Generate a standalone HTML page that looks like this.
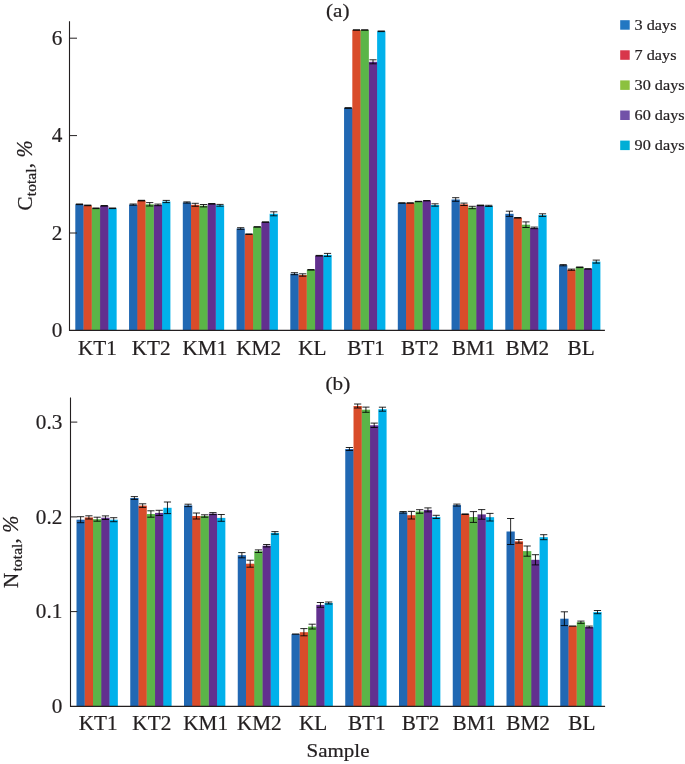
<!DOCTYPE html>
<html lang="en">
<head>
<meta charset="utf-8">
<title>Ctotal and Ntotal by sample</title>
<style>
html,body{margin:0;padding:0;background:#fff;}
body{width:685px;height:764px;overflow:hidden;}
svg{display:block;will-change:transform;opacity:0.9999;}
text{font-family:"Liberation Serif","DejaVu Serif",serif;fill:#231f20;stroke:#231f20;stroke-width:0.22px;}
.num{font-size:22px;}
.cat{font-size:20.3px;}
.ttl{font-size:18.9px;}
.smp{font-size:19.8px;}
.ysub{font-size:14.5px;}
.yl{font-size:21px;}
.leg{font-size:15.6px;}
</style>
</head>
<body>
<svg width="685" height="764" viewBox="0 0 685 764">
<rect width="685" height="764" fill="#fff"/>
<rect x="75.30" y="204.30" width="8.27" height="126.05" fill="#2168b3"/>
<rect x="83.37" y="205.90" width="0.9" height="124.45" fill="#2168b3"/>
<rect x="83.57" y="205.40" width="8.27" height="124.95" fill="#d94c2a"/>
<rect x="91.64" y="208.80" width="0.9" height="121.55" fill="#d94c2a"/>
<rect x="91.84" y="208.30" width="8.27" height="122.05" fill="#5bb548"/>
<rect x="99.91" y="208.80" width="0.9" height="121.55" fill="#5bb548"/>
<rect x="100.11" y="205.80" width="8.27" height="124.55" fill="#62308f"/>
<rect x="108.18" y="208.80" width="0.9" height="121.55" fill="#62308f"/>
<rect x="108.38" y="208.30" width="8.27" height="122.05" fill="#00b1eb"/>
<rect x="129.05" y="204.60" width="8.27" height="125.75" fill="#2168b3"/>
<rect x="137.12" y="205.10" width="0.9" height="125.25" fill="#2168b3"/>
<rect x="137.32" y="200.60" width="8.27" height="129.75" fill="#d94c2a"/>
<rect x="145.39" y="204.80" width="0.9" height="125.55" fill="#d94c2a"/>
<rect x="145.59" y="204.30" width="8.27" height="126.05" fill="#5bb548"/>
<rect x="153.66" y="205.40" width="0.9" height="124.95" fill="#5bb548"/>
<rect x="153.86" y="204.90" width="8.27" height="125.45" fill="#62308f"/>
<rect x="161.93" y="205.40" width="0.9" height="124.95" fill="#62308f"/>
<rect x="162.13" y="201.50" width="8.27" height="128.85" fill="#00b1eb"/>
<rect x="182.80" y="202.50" width="8.27" height="127.85" fill="#2168b3"/>
<rect x="190.87" y="205.30" width="0.9" height="125.05" fill="#2168b3"/>
<rect x="191.07" y="204.80" width="8.27" height="125.55" fill="#d94c2a"/>
<rect x="199.14" y="206.20" width="0.9" height="124.15" fill="#d94c2a"/>
<rect x="199.34" y="205.70" width="8.27" height="124.65" fill="#5bb548"/>
<rect x="207.41" y="206.20" width="0.9" height="124.15" fill="#5bb548"/>
<rect x="207.61" y="203.80" width="8.27" height="126.55" fill="#62308f"/>
<rect x="215.68" y="205.80" width="0.9" height="124.55" fill="#62308f"/>
<rect x="215.88" y="205.30" width="8.27" height="125.05" fill="#00b1eb"/>
<rect x="236.55" y="228.50" width="8.27" height="101.85" fill="#2168b3"/>
<rect x="244.62" y="234.70" width="0.9" height="95.65" fill="#2168b3"/>
<rect x="244.82" y="234.20" width="8.27" height="96.15" fill="#d94c2a"/>
<rect x="252.89" y="234.70" width="0.9" height="95.65" fill="#d94c2a"/>
<rect x="253.09" y="226.90" width="8.27" height="103.45" fill="#5bb548"/>
<rect x="261.16" y="227.40" width="0.9" height="102.95" fill="#5bb548"/>
<rect x="261.36" y="222.10" width="8.27" height="108.25" fill="#62308f"/>
<rect x="269.43" y="222.60" width="0.9" height="107.75" fill="#62308f"/>
<rect x="269.63" y="213.80" width="8.27" height="116.55" fill="#00b1eb"/>
<rect x="290.30" y="273.70" width="8.27" height="56.65" fill="#2168b3"/>
<rect x="298.37" y="275.50" width="0.9" height="54.85" fill="#2168b3"/>
<rect x="298.57" y="275.00" width="8.27" height="55.35" fill="#d94c2a"/>
<rect x="306.64" y="275.50" width="0.9" height="54.85" fill="#d94c2a"/>
<rect x="306.84" y="269.80" width="8.27" height="60.55" fill="#5bb548"/>
<rect x="314.91" y="270.30" width="0.9" height="60.05" fill="#5bb548"/>
<rect x="315.11" y="255.70" width="8.27" height="74.65" fill="#62308f"/>
<rect x="323.18" y="256.20" width="0.9" height="74.15" fill="#62308f"/>
<rect x="323.38" y="254.90" width="8.27" height="75.45" fill="#00b1eb"/>
<rect x="344.05" y="108.00" width="8.27" height="222.35" fill="#2168b3"/>
<rect x="352.12" y="108.50" width="0.9" height="221.85" fill="#2168b3"/>
<rect x="352.32" y="30.00" width="8.27" height="300.35" fill="#d94c2a"/>
<rect x="360.39" y="30.50" width="0.9" height="299.85" fill="#d94c2a"/>
<rect x="360.59" y="30.00" width="8.27" height="300.35" fill="#5bb548"/>
<rect x="368.66" y="62.30" width="0.9" height="268.05" fill="#5bb548"/>
<rect x="368.86" y="61.80" width="8.27" height="268.55" fill="#62308f"/>
<rect x="376.93" y="62.30" width="0.9" height="268.05" fill="#62308f"/>
<rect x="377.13" y="31.30" width="8.27" height="299.05" fill="#00b1eb"/>
<rect x="397.80" y="203.00" width="8.27" height="127.35" fill="#2168b3"/>
<rect x="405.87" y="203.50" width="0.9" height="126.85" fill="#2168b3"/>
<rect x="406.07" y="203.00" width="8.27" height="127.35" fill="#d94c2a"/>
<rect x="414.14" y="203.50" width="0.9" height="126.85" fill="#d94c2a"/>
<rect x="414.34" y="201.50" width="8.27" height="128.85" fill="#5bb548"/>
<rect x="422.41" y="202.00" width="0.9" height="128.35" fill="#5bb548"/>
<rect x="422.61" y="200.70" width="8.27" height="129.65" fill="#62308f"/>
<rect x="430.68" y="205.50" width="0.9" height="124.85" fill="#62308f"/>
<rect x="430.88" y="205.00" width="8.27" height="125.35" fill="#00b1eb"/>
<rect x="451.55" y="199.50" width="8.27" height="130.85" fill="#2168b3"/>
<rect x="459.62" y="204.80" width="0.9" height="125.55" fill="#2168b3"/>
<rect x="459.82" y="204.30" width="8.27" height="126.05" fill="#d94c2a"/>
<rect x="467.89" y="208.00" width="0.9" height="122.35" fill="#d94c2a"/>
<rect x="468.09" y="207.50" width="8.27" height="122.85" fill="#5bb548"/>
<rect x="476.16" y="208.00" width="0.9" height="122.35" fill="#5bb548"/>
<rect x="476.36" y="205.40" width="8.27" height="124.95" fill="#62308f"/>
<rect x="484.43" y="206.40" width="0.9" height="123.95" fill="#62308f"/>
<rect x="484.63" y="205.90" width="8.27" height="124.45" fill="#00b1eb"/>
<rect x="505.30" y="213.80" width="8.27" height="116.55" fill="#2168b3"/>
<rect x="513.37" y="218.30" width="0.9" height="112.05" fill="#2168b3"/>
<rect x="513.57" y="217.80" width="8.27" height="112.55" fill="#d94c2a"/>
<rect x="521.64" y="225.20" width="0.9" height="105.15" fill="#d94c2a"/>
<rect x="521.84" y="224.70" width="8.27" height="105.65" fill="#5bb548"/>
<rect x="529.91" y="228.40" width="0.9" height="101.95" fill="#5bb548"/>
<rect x="530.11" y="227.90" width="8.27" height="102.45" fill="#62308f"/>
<rect x="538.18" y="228.40" width="0.9" height="101.95" fill="#62308f"/>
<rect x="538.38" y="215.10" width="8.27" height="115.25" fill="#00b1eb"/>
<rect x="559.05" y="265.20" width="8.27" height="65.15" fill="#2168b3"/>
<rect x="567.12" y="270.20" width="0.9" height="60.15" fill="#2168b3"/>
<rect x="567.32" y="269.70" width="8.27" height="60.65" fill="#d94c2a"/>
<rect x="575.39" y="270.20" width="0.9" height="60.15" fill="#d94c2a"/>
<rect x="575.59" y="267.30" width="8.27" height="63.05" fill="#5bb548"/>
<rect x="583.66" y="269.40" width="0.9" height="60.95" fill="#5bb548"/>
<rect x="583.86" y="268.90" width="8.27" height="61.45" fill="#62308f"/>
<rect x="591.93" y="269.40" width="0.9" height="60.95" fill="#62308f"/>
<rect x="592.13" y="261.60" width="8.27" height="68.75" fill="#00b1eb"/>
<path d="M75.84 204.30H83.03" stroke="#000" stroke-opacity="0.9" stroke-width="1.60" fill="none"/>
<path d="M84.11 205.40H91.30" stroke="#000" stroke-opacity="0.9" stroke-width="1.60" fill="none"/>
<path d="M92.38 208.30H99.58" stroke="#000" stroke-opacity="0.9" stroke-width="1.60" fill="none"/>
<path d="M100.65 205.80H107.84" stroke="#000" stroke-opacity="0.9" stroke-width="1.60" fill="none"/>
<path d="M108.92 208.30H116.11" stroke="#000" stroke-opacity="0.9" stroke-width="1.60" fill="none"/>
<path d="M133.19 204.00V205.20M129.59 204.00H136.78M129.59 205.20H136.78" stroke="#000" stroke-opacity="0.85" stroke-width="1" fill="none"/>
<path d="M137.86 200.60H145.06" stroke="#000" stroke-opacity="0.9" stroke-width="1.60" fill="none"/>
<path d="M149.72 202.60V206.00M146.12 202.60H153.32M146.12 206.00H153.32" stroke="#000" stroke-opacity="0.85" stroke-width="1" fill="none"/>
<path d="M158.00 204.10V205.70M154.40 204.10H161.59M154.40 205.70H161.59" stroke="#000" stroke-opacity="0.85" stroke-width="1" fill="none"/>
<path d="M166.26 200.40V202.60M162.66 200.40H169.86M162.66 202.60H169.86" stroke="#000" stroke-opacity="0.85" stroke-width="1" fill="none"/>
<path d="M186.94 201.90V203.10M183.34 201.90H190.53M183.34 203.10H190.53" stroke="#000" stroke-opacity="0.85" stroke-width="1" fill="none"/>
<path d="M195.21 203.30V206.30M191.61 203.30H198.81M191.61 206.30H198.81" stroke="#000" stroke-opacity="0.85" stroke-width="1" fill="none"/>
<path d="M203.47 204.50V206.90M199.88 204.50H207.07M199.88 206.90H207.07" stroke="#000" stroke-opacity="0.85" stroke-width="1" fill="none"/>
<path d="M208.15 203.80H215.34" stroke="#000" stroke-opacity="0.9" stroke-width="1.60" fill="none"/>
<path d="M220.01 204.40V206.20M216.41 204.40H223.61M216.41 206.20H223.61" stroke="#000" stroke-opacity="0.85" stroke-width="1" fill="none"/>
<path d="M240.69 227.70V229.30M237.09 227.70H244.28M237.09 229.30H244.28" stroke="#000" stroke-opacity="0.85" stroke-width="1" fill="none"/>
<path d="M245.36 234.20H252.56" stroke="#000" stroke-opacity="0.9" stroke-width="1.60" fill="none"/>
<path d="M253.63 226.90H260.83" stroke="#000" stroke-opacity="0.9" stroke-width="1.60" fill="none"/>
<path d="M261.89 222.10H269.10" stroke="#000" stroke-opacity="0.9" stroke-width="1.60" fill="none"/>
<path d="M273.76 211.80V215.80M270.16 211.80H277.37M270.16 215.80H277.37" stroke="#000" stroke-opacity="0.85" stroke-width="1" fill="none"/>
<path d="M294.44 272.70V274.70M290.83 272.70H298.04M290.83 274.70H298.04" stroke="#000" stroke-opacity="0.85" stroke-width="1" fill="none"/>
<path d="M302.70 273.80V276.20M299.10 273.80H306.31M299.10 276.20H306.31" stroke="#000" stroke-opacity="0.85" stroke-width="1" fill="none"/>
<path d="M307.38 269.80H314.58" stroke="#000" stroke-opacity="0.9" stroke-width="1.60" fill="none"/>
<path d="M315.64 255.70H322.85" stroke="#000" stroke-opacity="0.9" stroke-width="1.60" fill="none"/>
<path d="M327.51 253.40V256.40M323.91 253.40H331.12M323.91 256.40H331.12" stroke="#000" stroke-opacity="0.85" stroke-width="1" fill="none"/>
<path d="M344.58 108.00H351.79" stroke="#000" stroke-opacity="0.9" stroke-width="1.80" fill="none"/>
<path d="M352.85 30.00H360.06" stroke="#000" stroke-opacity="0.9" stroke-width="1.60" fill="none"/>
<path d="M361.12 30.00H368.33" stroke="#000" stroke-opacity="0.9" stroke-width="1.60" fill="none"/>
<path d="M373.00 59.80V63.80M369.39 59.80H376.60M369.39 63.80H376.60" stroke="#000" stroke-opacity="0.85" stroke-width="1" fill="none"/>
<path d="M377.66 31.30H384.87" stroke="#000" stroke-opacity="0.9" stroke-width="1.60" fill="none"/>
<path d="M398.33 203.00H405.54" stroke="#000" stroke-opacity="0.9" stroke-width="1.60" fill="none"/>
<path d="M406.60 203.00H413.81" stroke="#000" stroke-opacity="0.9" stroke-width="1.60" fill="none"/>
<path d="M414.88 201.50H422.08" stroke="#000" stroke-opacity="0.9" stroke-width="1.40" fill="none"/>
<path d="M423.14 200.70H430.35" stroke="#000" stroke-opacity="0.9" stroke-width="1.40" fill="none"/>
<path d="M435.01 203.80V206.20M431.41 203.80H438.62M431.41 206.20H438.62" stroke="#000" stroke-opacity="0.85" stroke-width="1" fill="none"/>
<path d="M455.69 197.70V201.30M452.08 197.70H459.29M452.08 201.30H459.29" stroke="#000" stroke-opacity="0.85" stroke-width="1" fill="none"/>
<path d="M463.95 203.10V205.50M460.35 203.10H467.56M460.35 205.50H467.56" stroke="#000" stroke-opacity="0.85" stroke-width="1" fill="none"/>
<path d="M472.23 206.30V208.70M468.62 206.30H475.83M468.62 208.70H475.83" stroke="#000" stroke-opacity="0.85" stroke-width="1" fill="none"/>
<path d="M476.89 205.40H484.10" stroke="#000" stroke-opacity="0.9" stroke-width="1.60" fill="none"/>
<path d="M488.76 205.30V206.50M485.16 205.30H492.37M485.16 206.50H492.37" stroke="#000" stroke-opacity="0.85" stroke-width="1" fill="none"/>
<path d="M509.44 211.20V216.40M505.83 211.20H513.03M505.83 216.40H513.03" stroke="#000" stroke-opacity="0.85" stroke-width="1" fill="none"/>
<path d="M514.11 217.80H521.31" stroke="#000" stroke-opacity="0.9" stroke-width="1.60" fill="none"/>
<path d="M525.98 221.90V227.50M522.38 221.90H529.58M522.38 227.50H529.58" stroke="#000" stroke-opacity="0.85" stroke-width="1" fill="none"/>
<path d="M534.25 227.10V228.70M530.64 227.10H537.85M530.64 228.70H537.85" stroke="#000" stroke-opacity="0.85" stroke-width="1" fill="none"/>
<path d="M542.51 213.80V216.40M538.91 213.80H546.12M538.91 216.40H546.12" stroke="#000" stroke-opacity="0.85" stroke-width="1" fill="none"/>
<path d="M563.18 264.60V265.80M559.58 264.60H566.78M559.58 265.80H566.78" stroke="#000" stroke-opacity="0.85" stroke-width="1" fill="none"/>
<path d="M571.45 269.10V270.30M567.85 269.10H575.05M567.85 270.30H575.05" stroke="#000" stroke-opacity="0.85" stroke-width="1" fill="none"/>
<path d="M576.12 267.30H583.32" stroke="#000" stroke-opacity="0.9" stroke-width="1.60" fill="none"/>
<path d="M584.39 268.90H591.59" stroke="#000" stroke-opacity="0.9" stroke-width="1.60" fill="none"/>
<path d="M596.26 260.10V263.10M592.66 260.10H599.87M592.66 263.10H599.87" stroke="#000" stroke-opacity="0.85" stroke-width="1" fill="none"/>
<path d="M69.5 21.3V330.35H604.9" stroke="#231f20" stroke-width="1.1" fill="none"/>
<rect x="76.50" y="519.70" width="8.27" height="186.65" fill="#2168b3"/>
<rect x="84.57" y="520.20" width="0.9" height="186.15" fill="#2168b3"/>
<rect x="84.77" y="517.40" width="8.27" height="188.95" fill="#d94c2a"/>
<rect x="92.84" y="519.70" width="0.9" height="186.65" fill="#d94c2a"/>
<rect x="93.04" y="519.20" width="8.27" height="187.15" fill="#5bb548"/>
<rect x="101.11" y="519.70" width="0.9" height="186.65" fill="#5bb548"/>
<rect x="101.31" y="517.70" width="8.27" height="188.65" fill="#62308f"/>
<rect x="109.38" y="520.20" width="0.9" height="186.15" fill="#62308f"/>
<rect x="109.58" y="519.70" width="8.27" height="186.65" fill="#00b1eb"/>
<rect x="130.25" y="498.00" width="8.27" height="208.35" fill="#2168b3"/>
<rect x="138.32" y="506.10" width="0.9" height="200.25" fill="#2168b3"/>
<rect x="138.52" y="505.60" width="8.27" height="200.75" fill="#d94c2a"/>
<rect x="146.59" y="514.50" width="0.9" height="191.85" fill="#d94c2a"/>
<rect x="146.79" y="514.00" width="8.27" height="192.35" fill="#5bb548"/>
<rect x="154.86" y="514.50" width="0.9" height="191.85" fill="#5bb548"/>
<rect x="155.06" y="512.90" width="8.27" height="193.45" fill="#62308f"/>
<rect x="163.13" y="513.40" width="0.9" height="192.95" fill="#62308f"/>
<rect x="163.33" y="507.80" width="8.27" height="198.55" fill="#00b1eb"/>
<rect x="184.00" y="505.40" width="8.27" height="200.95" fill="#2168b3"/>
<rect x="192.07" y="516.50" width="0.9" height="189.85" fill="#2168b3"/>
<rect x="192.27" y="516.00" width="8.27" height="190.35" fill="#d94c2a"/>
<rect x="200.34" y="516.50" width="0.9" height="189.85" fill="#d94c2a"/>
<rect x="200.54" y="516.00" width="8.27" height="190.35" fill="#5bb548"/>
<rect x="208.61" y="516.50" width="0.9" height="189.85" fill="#5bb548"/>
<rect x="208.81" y="513.60" width="8.27" height="192.75" fill="#62308f"/>
<rect x="216.88" y="518.40" width="0.9" height="187.95" fill="#62308f"/>
<rect x="217.08" y="517.90" width="8.27" height="188.45" fill="#00b1eb"/>
<rect x="237.75" y="555.20" width="8.27" height="151.15" fill="#2168b3"/>
<rect x="245.82" y="564.20" width="0.9" height="142.15" fill="#2168b3"/>
<rect x="246.02" y="563.70" width="8.27" height="142.65" fill="#d94c2a"/>
<rect x="254.09" y="564.20" width="0.9" height="142.15" fill="#d94c2a"/>
<rect x="254.29" y="551.20" width="8.27" height="155.15" fill="#5bb548"/>
<rect x="262.36" y="551.70" width="0.9" height="154.65" fill="#5bb548"/>
<rect x="262.56" y="545.70" width="8.27" height="160.65" fill="#62308f"/>
<rect x="270.63" y="546.20" width="0.9" height="160.15" fill="#62308f"/>
<rect x="270.83" y="532.90" width="8.27" height="173.45" fill="#00b1eb"/>
<rect x="291.50" y="634.10" width="8.27" height="72.25" fill="#2168b3"/>
<rect x="299.57" y="634.60" width="0.9" height="71.75" fill="#2168b3"/>
<rect x="299.77" y="632.20" width="8.27" height="74.15" fill="#d94c2a"/>
<rect x="307.84" y="632.70" width="0.9" height="73.65" fill="#d94c2a"/>
<rect x="308.04" y="626.60" width="8.27" height="79.75" fill="#5bb548"/>
<rect x="316.11" y="627.10" width="0.9" height="79.25" fill="#5bb548"/>
<rect x="316.31" y="604.90" width="8.27" height="101.45" fill="#62308f"/>
<rect x="324.38" y="605.40" width="0.9" height="100.95" fill="#62308f"/>
<rect x="324.58" y="603.00" width="8.27" height="103.35" fill="#00b1eb"/>
<rect x="345.25" y="449.00" width="8.27" height="257.35" fill="#2168b3"/>
<rect x="353.32" y="449.50" width="0.9" height="256.85" fill="#2168b3"/>
<rect x="353.52" y="406.00" width="8.27" height="300.35" fill="#d94c2a"/>
<rect x="361.59" y="410.20" width="0.9" height="296.15" fill="#d94c2a"/>
<rect x="361.79" y="409.70" width="8.27" height="296.65" fill="#5bb548"/>
<rect x="369.86" y="425.80" width="0.9" height="280.55" fill="#5bb548"/>
<rect x="370.06" y="425.30" width="8.27" height="281.05" fill="#62308f"/>
<rect x="378.13" y="425.80" width="0.9" height="280.55" fill="#62308f"/>
<rect x="378.33" y="409.20" width="8.27" height="297.15" fill="#00b1eb"/>
<rect x="399.00" y="512.30" width="8.27" height="194.05" fill="#2168b3"/>
<rect x="407.07" y="515.70" width="0.9" height="190.65" fill="#2168b3"/>
<rect x="407.27" y="515.20" width="8.27" height="191.15" fill="#d94c2a"/>
<rect x="415.34" y="515.70" width="0.9" height="190.65" fill="#d94c2a"/>
<rect x="415.54" y="511.50" width="8.27" height="194.85" fill="#5bb548"/>
<rect x="423.61" y="512.00" width="0.9" height="194.35" fill="#5bb548"/>
<rect x="423.81" y="509.90" width="8.27" height="196.45" fill="#62308f"/>
<rect x="431.88" y="517.40" width="0.9" height="188.95" fill="#62308f"/>
<rect x="432.08" y="516.90" width="8.27" height="189.45" fill="#00b1eb"/>
<rect x="452.75" y="505.10" width="8.27" height="201.25" fill="#2168b3"/>
<rect x="460.82" y="514.70" width="0.9" height="191.65" fill="#2168b3"/>
<rect x="461.02" y="514.20" width="8.27" height="192.15" fill="#d94c2a"/>
<rect x="469.09" y="517.50" width="0.9" height="188.85" fill="#d94c2a"/>
<rect x="469.29" y="517.00" width="8.27" height="189.35" fill="#5bb548"/>
<rect x="477.36" y="517.50" width="0.9" height="188.85" fill="#5bb548"/>
<rect x="477.56" y="514.40" width="8.27" height="191.95" fill="#62308f"/>
<rect x="485.63" y="517.70" width="0.9" height="188.65" fill="#62308f"/>
<rect x="485.83" y="517.20" width="8.27" height="189.15" fill="#00b1eb"/>
<rect x="506.50" y="531.50" width="8.27" height="174.85" fill="#2168b3"/>
<rect x="514.57" y="541.80" width="0.9" height="164.55" fill="#2168b3"/>
<rect x="514.77" y="541.30" width="8.27" height="165.05" fill="#d94c2a"/>
<rect x="522.84" y="551.60" width="0.9" height="154.75" fill="#d94c2a"/>
<rect x="523.04" y="551.10" width="8.27" height="155.25" fill="#5bb548"/>
<rect x="531.11" y="560.30" width="0.9" height="146.05" fill="#5bb548"/>
<rect x="531.31" y="559.80" width="8.27" height="146.55" fill="#62308f"/>
<rect x="539.38" y="560.30" width="0.9" height="146.05" fill="#62308f"/>
<rect x="539.58" y="537.20" width="8.27" height="169.15" fill="#00b1eb"/>
<rect x="560.25" y="618.70" width="8.27" height="87.65" fill="#2168b3"/>
<rect x="568.32" y="626.60" width="0.9" height="79.75" fill="#2168b3"/>
<rect x="568.52" y="626.10" width="8.27" height="80.25" fill="#d94c2a"/>
<rect x="576.59" y="626.60" width="0.9" height="79.75" fill="#d94c2a"/>
<rect x="576.79" y="622.20" width="8.27" height="84.15" fill="#5bb548"/>
<rect x="584.86" y="627.50" width="0.9" height="78.85" fill="#5bb548"/>
<rect x="585.06" y="627.00" width="8.27" height="79.35" fill="#62308f"/>
<rect x="593.13" y="627.50" width="0.9" height="78.85" fill="#62308f"/>
<rect x="593.33" y="612.10" width="8.27" height="94.25" fill="#00b1eb"/>
<path d="M80.64 516.70V522.70M77.04 516.70H84.23M77.04 522.70H84.23" stroke="#000" stroke-opacity="0.85" stroke-width="1" fill="none"/>
<path d="M88.91 515.80V519.00M85.31 515.80H92.50M85.31 519.00H92.50" stroke="#000" stroke-opacity="0.85" stroke-width="1" fill="none"/>
<path d="M97.17 517.20V521.20M93.58 517.20H100.77M93.58 521.20H100.77" stroke="#000" stroke-opacity="0.85" stroke-width="1" fill="none"/>
<path d="M105.45 515.90V519.50M101.85 515.90H109.05M101.85 519.50H109.05" stroke="#000" stroke-opacity="0.85" stroke-width="1" fill="none"/>
<path d="M113.72 517.70V521.70M110.12 517.70H117.31M110.12 521.70H117.31" stroke="#000" stroke-opacity="0.85" stroke-width="1" fill="none"/>
<path d="M134.38 496.60V499.40M130.78 496.60H137.98M130.78 499.40H137.98" stroke="#000" stroke-opacity="0.85" stroke-width="1" fill="none"/>
<path d="M142.66 503.80V507.40M139.06 503.80H146.25M139.06 507.40H146.25" stroke="#000" stroke-opacity="0.85" stroke-width="1" fill="none"/>
<path d="M150.92 510.80V517.20M147.32 510.80H154.52M147.32 517.20H154.52" stroke="#000" stroke-opacity="0.85" stroke-width="1" fill="none"/>
<path d="M159.19 510.30V515.50M155.59 510.30H162.79M155.59 515.50H162.79" stroke="#000" stroke-opacity="0.85" stroke-width="1" fill="none"/>
<path d="M167.46 502.00V513.60M163.86 502.00H171.06M163.86 513.60H171.06" stroke="#000" stroke-opacity="0.85" stroke-width="1" fill="none"/>
<path d="M188.13 504.20V506.60M184.53 504.20H191.73M184.53 506.60H191.73" stroke="#000" stroke-opacity="0.85" stroke-width="1" fill="none"/>
<path d="M196.41 513.00V519.00M192.81 513.00H200.00M192.81 519.00H200.00" stroke="#000" stroke-opacity="0.85" stroke-width="1" fill="none"/>
<path d="M204.67 514.80V517.20M201.07 514.80H208.27M201.07 517.20H208.27" stroke="#000" stroke-opacity="0.85" stroke-width="1" fill="none"/>
<path d="M212.94 512.60V514.60M209.34 512.60H216.54M209.34 514.60H216.54" stroke="#000" stroke-opacity="0.85" stroke-width="1" fill="none"/>
<path d="M221.21 514.50V521.30M217.61 514.50H224.81M217.61 521.30H224.81" stroke="#000" stroke-opacity="0.85" stroke-width="1" fill="none"/>
<path d="M241.88 552.60V557.80M238.28 552.60H245.48M238.28 557.80H245.48" stroke="#000" stroke-opacity="0.85" stroke-width="1" fill="none"/>
<path d="M250.16 560.20V567.20M246.56 560.20H253.75M246.56 567.20H253.75" stroke="#000" stroke-opacity="0.85" stroke-width="1" fill="none"/>
<path d="M258.43 549.90V552.50M254.83 549.90H262.03M254.83 552.50H262.03" stroke="#000" stroke-opacity="0.85" stroke-width="1" fill="none"/>
<path d="M266.69 544.50V546.90M263.09 544.50H270.30M263.09 546.90H270.30" stroke="#000" stroke-opacity="0.85" stroke-width="1" fill="none"/>
<path d="M274.96 531.60V534.20M271.36 531.60H278.56M271.36 534.20H278.56" stroke="#000" stroke-opacity="0.85" stroke-width="1" fill="none"/>
<path d="M292.03 634.10H299.24" stroke="#000" stroke-opacity="0.9" stroke-width="1.24" fill="none"/>
<path d="M303.90 628.60V635.80M300.30 628.60H307.50M300.30 635.80H307.50" stroke="#000" stroke-opacity="0.85" stroke-width="1" fill="none"/>
<path d="M312.18 624.20V629.00M308.57 624.20H315.78M308.57 629.00H315.78" stroke="#000" stroke-opacity="0.85" stroke-width="1" fill="none"/>
<path d="M320.44 602.50V607.30M316.84 602.50H324.05M316.84 607.30H324.05" stroke="#000" stroke-opacity="0.85" stroke-width="1" fill="none"/>
<path d="M328.71 602.00V604.00M325.11 602.00H332.31M325.11 604.00H332.31" stroke="#000" stroke-opacity="0.85" stroke-width="1" fill="none"/>
<path d="M349.38 447.50V450.50M345.78 447.50H352.99M345.78 450.50H352.99" stroke="#000" stroke-opacity="0.85" stroke-width="1" fill="none"/>
<path d="M357.65 404.00V408.00M354.05 404.00H361.25M354.05 408.00H361.25" stroke="#000" stroke-opacity="0.85" stroke-width="1" fill="none"/>
<path d="M365.93 407.10V412.30M362.32 407.10H369.53M362.32 412.30H369.53" stroke="#000" stroke-opacity="0.85" stroke-width="1" fill="none"/>
<path d="M374.19 423.10V427.50M370.59 423.10H377.80M370.59 427.50H377.80" stroke="#000" stroke-opacity="0.85" stroke-width="1" fill="none"/>
<path d="M382.46 407.20V411.20M378.86 407.20H386.06M378.86 411.20H386.06" stroke="#000" stroke-opacity="0.85" stroke-width="1" fill="none"/>
<path d="M403.13 511.50V513.10M399.53 511.50H406.74M399.53 513.10H406.74" stroke="#000" stroke-opacity="0.85" stroke-width="1" fill="none"/>
<path d="M411.40 511.40V519.00M407.80 511.40H415.00M407.80 519.00H415.00" stroke="#000" stroke-opacity="0.85" stroke-width="1" fill="none"/>
<path d="M419.68 509.70V513.30M416.07 509.70H423.28M416.07 513.30H423.28" stroke="#000" stroke-opacity="0.85" stroke-width="1" fill="none"/>
<path d="M427.94 507.90V511.90M424.34 507.90H431.55M424.34 511.90H431.55" stroke="#000" stroke-opacity="0.85" stroke-width="1" fill="none"/>
<path d="M436.21 515.30V518.50M432.61 515.30H439.81M432.61 518.50H439.81" stroke="#000" stroke-opacity="0.85" stroke-width="1" fill="none"/>
<path d="M456.88 504.10V506.10M453.28 504.10H460.49M453.28 506.10H460.49" stroke="#000" stroke-opacity="0.85" stroke-width="1" fill="none"/>
<path d="M461.55 514.20H468.75" stroke="#000" stroke-opacity="0.9" stroke-width="1.60" fill="none"/>
<path d="M473.43 511.60V522.40M469.82 511.60H477.03M469.82 522.40H477.03" stroke="#000" stroke-opacity="0.85" stroke-width="1" fill="none"/>
<path d="M481.69 509.60V519.20M478.09 509.60H485.30M478.09 519.20H485.30" stroke="#000" stroke-opacity="0.85" stroke-width="1" fill="none"/>
<path d="M489.96 513.40V521.00M486.36 513.40H493.56M486.36 521.00H493.56" stroke="#000" stroke-opacity="0.85" stroke-width="1" fill="none"/>
<path d="M510.63 518.50V544.50M507.03 518.50H514.24M507.03 544.50H514.24" stroke="#000" stroke-opacity="0.85" stroke-width="1" fill="none"/>
<path d="M518.90 539.50V543.10M515.30 539.50H522.50M515.30 543.10H522.50" stroke="#000" stroke-opacity="0.85" stroke-width="1" fill="none"/>
<path d="M527.17 546.00V556.20M523.57 546.00H530.77M523.57 556.20H530.77" stroke="#000" stroke-opacity="0.85" stroke-width="1" fill="none"/>
<path d="M535.44 554.70V564.90M531.84 554.70H539.04M531.84 564.90H539.04" stroke="#000" stroke-opacity="0.85" stroke-width="1" fill="none"/>
<path d="M543.72 534.70V539.70M540.12 534.70H547.32M540.12 539.70H547.32" stroke="#000" stroke-opacity="0.85" stroke-width="1" fill="none"/>
<path d="M564.38 611.80V625.60M560.78 611.80H567.99M560.78 625.60H567.99" stroke="#000" stroke-opacity="0.85" stroke-width="1" fill="none"/>
<path d="M569.05 626.10H576.25" stroke="#000" stroke-opacity="0.9" stroke-width="1.24" fill="none"/>
<path d="M580.92 621.10V623.30M577.32 621.10H584.52M577.32 623.30H584.52" stroke="#000" stroke-opacity="0.85" stroke-width="1" fill="none"/>
<path d="M589.19 626.10V627.90M585.59 626.10H592.79M585.59 627.90H592.79" stroke="#000" stroke-opacity="0.85" stroke-width="1" fill="none"/>
<path d="M597.47 610.50V613.70M593.87 610.50H601.07M593.87 613.70H601.07" stroke="#000" stroke-opacity="0.85" stroke-width="1" fill="none"/>
<path d="M70.5 397.5V706.35H605.1" stroke="#231f20" stroke-width="1.1" fill="none"/>
<path d="M69.5 38.2H77" stroke="#231f20" stroke-width="1"/>
<text transform="translate(62.3,44.8) scale(0.965,1)" text-anchor="end" class="num">6</text>
<path d="M69.5 135.6H77" stroke="#231f20" stroke-width="1"/>
<text transform="translate(62.3,142.2) scale(0.965,1)" text-anchor="end" class="num">4</text>
<path d="M69.5 233.0H77" stroke="#231f20" stroke-width="1"/>
<text transform="translate(62.3,239.6) scale(0.965,1)" text-anchor="end" class="num">2</text>
<text transform="translate(62.3,336.7) scale(0.965,1)" text-anchor="end" class="num">0</text>
<path d="M70.5 422.1H77.3" stroke="#231f20" stroke-width="1"/>
<text transform="translate(62.4,428.8) scale(0.965,1)" text-anchor="end" class="num">0.3</text>
<path d="M70.5 516.9H77.3" stroke="#231f20" stroke-width="1"/>
<text transform="translate(62.4,523.6) scale(0.965,1)" text-anchor="end" class="num">0.2</text>
<path d="M70.5 611.6H77.3" stroke="#231f20" stroke-width="1"/>
<text transform="translate(62.4,618.3) scale(0.965,1)" text-anchor="end" class="num">0.1</text>
<text transform="translate(62.4,712.7) scale(0.965,1)" text-anchor="end" class="num">0</text>
<text transform="translate(97.4,354.5) scale(1.045,1)" text-anchor="middle" class="cat">KT1</text>
<text transform="translate(98.1,730.2) scale(1.045,1)" text-anchor="middle" class="cat">KT1</text>
<text transform="translate(151.1,354.5) scale(1.045,1)" text-anchor="middle" class="cat">KT2</text>
<text transform="translate(151.8,730.2) scale(1.045,1)" text-anchor="middle" class="cat">KT2</text>
<text transform="translate(204.9,354.5) scale(1.045,1)" text-anchor="middle" class="cat">KM1</text>
<text transform="translate(205.6,730.2) scale(1.045,1)" text-anchor="middle" class="cat">KM1</text>
<text transform="translate(258.6,354.5) scale(1.045,1)" text-anchor="middle" class="cat">KM2</text>
<text transform="translate(259.3,730.2) scale(1.045,1)" text-anchor="middle" class="cat">KM2</text>
<text transform="translate(312.4,354.5) scale(1.045,1)" text-anchor="middle" class="cat">KL</text>
<text transform="translate(313.1,730.2) scale(1.045,1)" text-anchor="middle" class="cat">KL</text>
<text transform="translate(366.1,354.5) scale(1.045,1)" text-anchor="middle" class="cat">BT1</text>
<text transform="translate(366.8,730.2) scale(1.045,1)" text-anchor="middle" class="cat">BT1</text>
<text transform="translate(419.9,354.5) scale(1.045,1)" text-anchor="middle" class="cat">BT2</text>
<text transform="translate(420.6,730.2) scale(1.045,1)" text-anchor="middle" class="cat">BT2</text>
<text transform="translate(473.6,354.5) scale(1.045,1)" text-anchor="middle" class="cat">BM1</text>
<text transform="translate(474.3,730.2) scale(1.045,1)" text-anchor="middle" class="cat">BM1</text>
<text transform="translate(527.4,354.5) scale(1.045,1)" text-anchor="middle" class="cat">BM2</text>
<text transform="translate(528.1,730.2) scale(1.045,1)" text-anchor="middle" class="cat">BM2</text>
<text transform="translate(581.1,354.5) scale(1.045,1)" text-anchor="middle" class="cat">BL</text>
<text transform="translate(581.8,730.2) scale(1.045,1)" text-anchor="middle" class="cat">BL</text>
<text transform="translate(337.8,17.2) scale(1.12,1)" text-anchor="middle" class="ttl">(a)</text>
<text transform="translate(337.9,390.2) scale(1.12,1)" text-anchor="middle" class="ttl">(b)</text>
<text transform="translate(338,757.3) scale(1.06,1)" text-anchor="middle" class="smp">Sample</text>
<g transform="translate(32,210.6) rotate(-90)">
<text x="0" y="0" class="yl">C</text>
<text transform="translate(14.4,4.3) scale(1.075,1)" class="ysub">total</text>
<text x="42.3" y="0" class="yl">,</text>
<text transform="translate(53.0,0) scale(0.98,1.08)" class="yl" font-style="italic">%</text>
</g>
<g transform="translate(17.6,588.0) rotate(-90)">
<text x="0" y="0" class="yl">N</text>
<text transform="translate(16.7,4.3) scale(1.075,1)" class="ysub">total</text>
<text x="44.599999999999994" y="0" class="yl">,</text>
<text transform="translate(55.3,0) scale(0.98,1.08)" class="yl" font-style="italic">%</text>
</g>
<rect x="620.2" y="20.2" width="9.5" height="9.5" fill="#2277c2"/>
<text transform="translate(634.6,29.8) scale(1.04,1)" class="leg">3 days</text>
<rect x="620.2" y="50.3" width="9.5" height="9.5" fill="#d8364a"/>
<text transform="translate(634.6,59.9) scale(1.04,1)" class="leg">7 days</text>
<rect x="620.2" y="80.4" width="9.5" height="9.5" fill="#8cc13f"/>
<text transform="translate(634.6,90.0) scale(1.04,1)" class="leg">30 days</text>
<rect x="620.2" y="110.5" width="9.5" height="9.5" fill="#7252a8"/>
<text transform="translate(634.6,120.1) scale(1.04,1)" class="leg">60 days</text>
<rect x="620.2" y="140.6" width="9.5" height="9.5" fill="#00aed6"/>
<text transform="translate(634.6,150.2) scale(1.04,1)" class="leg">90 days</text>
</svg>
</body>
</html>
